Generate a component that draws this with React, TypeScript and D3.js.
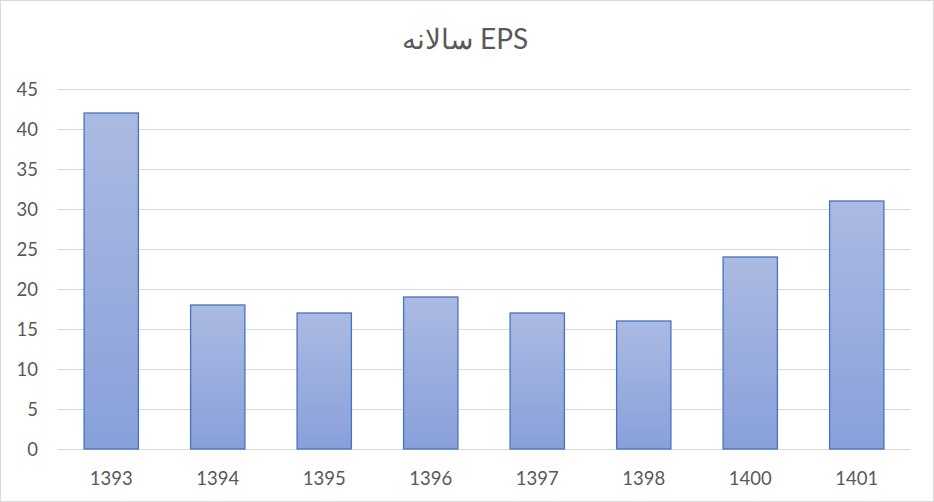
import React from "react";
import * as d3 from "d3";

const categories = ["1393", "1394", "1395", "1396", "1397", "1398", "1400", "1401"];
const epsValues = [42, 18, 17, 19, 17, 16, 24, 31];
const yTicks = [0, 5, 10, 15, 20, 25, 30, 35, 40, 45];
const title = "سالانه EPS";

const W = 934;
const H = 502;
const M = { left: 58, right: 24, top: 89, bottom: 53 };

export default function App() {
  const x = d3
    .scaleBand<string>()
    .domain(categories)
    .range([M.left, W - M.right])
    .paddingInner(0.49)
    .paddingOuter(0.245);
  const y = d3.scaleLinear().domain([0, 45]).range([H - M.bottom, M.top]);
  const font = "Lato, 'Open Sans', sans-serif";
  return (
    <svg
      width={W}
      height={H}
      style={{ position: "absolute", left: 0, top: 0 }}
      fontFamily={font}
    >
      <defs>
        <linearGradient id="barGrad" x1="0" y1="0" x2="0" y2="1">
          <stop offset="0%" stopColor="#abbae2" />
          <stop offset="100%" stopColor="#88a0da" />
        </linearGradient>
      </defs>
      <rect x={0.5} y={0.5} width={W - 1} height={H - 1} fill="#fff" stroke="#d9d9d9" />
      <text x={465} y={49} textAnchor="middle" fontSize={28} fill="#595959">
        {title}
      </text>
      {yTicks.map((t) => (
        <g key={t}>
          <line
            x1={M.left}
            x2={W - M.right}
            y1={Math.round(y(t)) + 0.5}
            y2={Math.round(y(t)) + 0.5}
            stroke="#d9d9d9"
            strokeWidth={1}
          />
          <text x={38} y={y(t) + 6.5} textAnchor="end" fontSize={18.5} fill="#595959">
            {t}
          </text>
        </g>
      ))}
      {categories.map((c, i) => (
        <g key={c}>
          <rect
            x={x(c)!}
            y={y(epsValues[i])}
            width={x.bandwidth()}
            height={y(0) - y(epsValues[i])}
            fill="url(#barGrad)"
            stroke="#4472c4"
            strokeWidth={1.3}
          />
          <text
            x={x(c)! + x.bandwidth() / 2}
            y={485}
            textAnchor="middle"
            fontSize={18.5}
            fill="#595959"
          >
            {c}
          </text>
        </g>
      ))}
    </svg>
  );
}
